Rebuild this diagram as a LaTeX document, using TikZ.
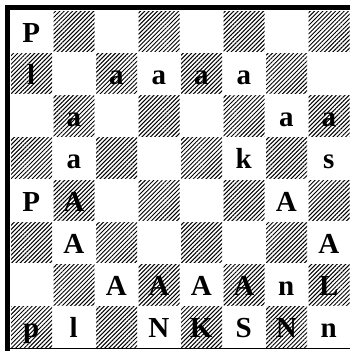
\documentclass[tikz,border=0pt]{standalone}
\usepackage{fontspec}
\setmainfont{Liberation Serif}
\usetikzlibrary{patterns.meta}

\begin{document}
\begin{tikzpicture}[x=1pt,y=-1pt,
    dark/.style={pattern={Lines[angle=45,distance=3pt,line width=1pt]}},
    piece/.style={font=\fontsize{29}{29}\selectfont\bfseries,anchor=base,inner sep=0pt}]
  \useasboundingbox (0,0) rectangle (350,351);
  % hatched squares
  \foreach \r in {0,...,7}
    \foreach \c in {0,...,7} {
      \pgfmathtruncatemacro{\odd}{mod(\r+\c,2)}
      \ifnum\odd=1
        \path[dark] (11+42.5*\c,11+42.25*\r) rectangle ++(41,40.5);
      \fi
    }
  % frame
  \fill (5,5) rectangle (350,10);
  \fill (5,5) rectangle (10,351);
  \draw[line width=0.8pt] (10,348) -- (350,348);
  % pieces
  \foreach \c/\r/\p in {0/0/P,
      0/1/l, 2/1/a, 3/1/a, 4/1/a, 5/1/a,
      1/2/a, 6/2/a, 7/2/a,
      1/3/a, 5/3/k, 7/3/s,
      0/4/P, 1/4/A, 6/4/A,
      1/5/A, 7/5/A,
      2/6/A, 3/6/A, 4/6/A, 5/6/A, 6/6/n, 7/6/L,
      0/7/p, 1/7/l, 3/7/N, 4/7/K, 5/7/S, 6/7/N, 7/7/n}
    \node[piece] (\p-\c-\r) at (31.25+42.5*\c,42+42.25*\r) {\p};
\end{tikzpicture}
\end{document}
